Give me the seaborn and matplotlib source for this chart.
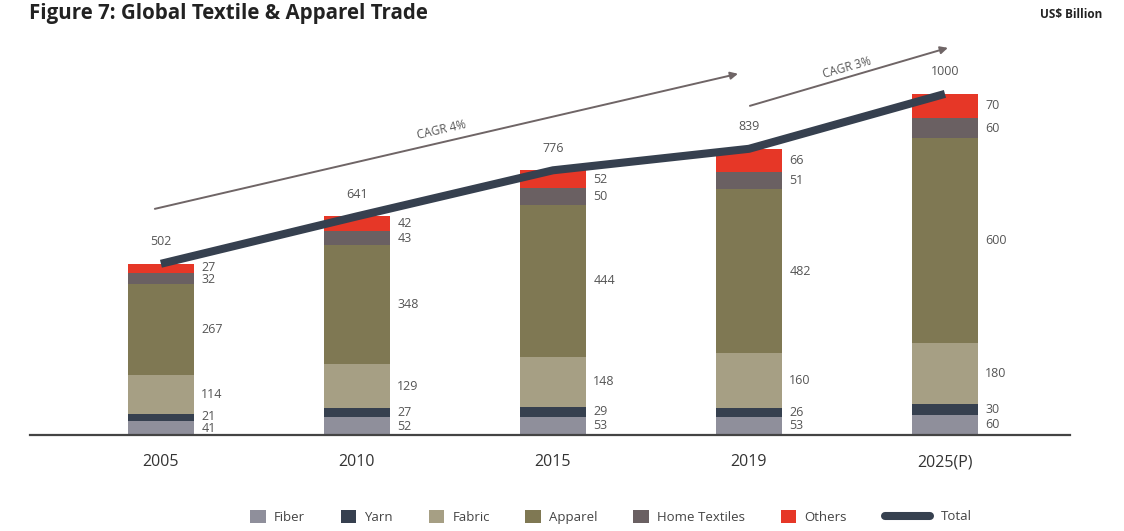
import numpy as np
import pandas as pd
import matplotlib
matplotlib.use("Agg")
import matplotlib.pyplot as plt
import seaborn as sns
from matplotlib.patches import Patch
from matplotlib.lines import Line2D

years = ["2005", "2010", "2015", "2019", "2025(P)"]
fiber = [41, 52, 53, 53, 60]
yarn = [21, 27, 29, 26, 30]
fabric = [114, 129, 148, 160, 180]
apparel = [267, 348, 444, 482, 600]
home_textiles = [32, 43, 50, 51, 60]
others = [27, 42, 52, 66, 70]
totals = [502, 641, 776, 839, 1000]
series_names = ["Fiber", "Yarn", "Fabric", "Apparel", "Home Textiles", "Others"]
cagr_labels = ["CAGR 4%", "CAGR 3%"]

colors = ["#8f8f9b", "#36404f", "#a69f84", "#7f7853", "#6a6062", "#e63727"]
line_color = "#36404f"
arrow_color = "#6f6566"
label_color = "#555555"

sns.set_theme(style="white")
plt.rcParams['font.family'] = ['Open Sans', 'DejaVu Sans']

fig = plt.figure(figsize=(11.24, 5.31), dpi=100)
ax = fig.add_axes([30/1124, 96/531, 1040/1124, 395/531])

series = [fiber, yarn, fabric, apparel, home_textiles, others]
cum = np.cumsum(np.array(series), axis=0)
df = pd.DataFrame({"year": years})
# draw cumulative layers from top to bottom so that each layer shows its own segment
for i in range(len(series) - 1, -1, -1):
    df["v"] = cum[i]
    sns.barplot(data=df, x="year", y="v", color=colors[i], width=0.34,
                saturation=1, errorbar=None, ax=ax, linewidth=0, zorder=2)

xpos = np.arange(len(years))
px_per_unit = 395 / 1158
min_gap_px = 12.5
# segment labels, nudged apart when neighbouring segments are thin
for j in range(len(years)):
    mids = []
    for i in range(len(series)):
        bottom = cum[i][j] - series[i][j]
        mids.append((bottom + series[i][j] / 2) * px_per_unit)
    offs = [0.0] * len(series)
    for i in range(len(series) - 1):
        gap = (mids[i + 1] + offs[i + 1]) - (mids[i] + offs[i])
        if gap < min_gap_px:
            push = (min_gap_px - gap) / 2
            offs[i] -= push
            offs[i + 1] += push
    for i in range(len(series)):
        bottom = cum[i][j] - series[i][j]
        mid = bottom + series[i][j] / 2
        ax.annotate(str(series[i][j]), xy=(xpos[j] + 0.17, mid),
                    xytext=(5, offs[i] * 0.72),
                    textcoords="offset points", ha="left", va="center",
                    fontsize=9, color=label_color)

# total line
sns.lineplot(x=xpos, y=totals, color=line_color, linewidth=5.8, ax=ax,
             zorder=5, solid_capstyle="butt")
for j in range(len(years)):
    ax.annotate(str(totals[j]), xy=(xpos[j], totals[j]), xytext=(0, 16),
                textcoords="offset points", ha="center", va="center",
                fontsize=9, color=label_color)

# CAGR arrows
ax.annotate("", xy=(2.944, 1059), xytext=(-0.031, 663),
            arrowprops=dict(arrowstyle="-|>", color=arrow_color, lw=1.4,
                            mutation_scale=11, shrinkA=0, shrinkB=0))
ax.annotate("", xy=(4.015, 1135), xytext=(3.005, 965),
            arrowprops=dict(arrowstyle="-|>", color=arrow_color, lw=1.4,
                            mutation_scale=11, shrinkA=0, shrinkB=0))
ax.text(1.434, 894, cagr_labels[0], rotation=13, ha="center", va="center",
        fontsize=8.5, color=label_color, rotation_mode="anchor")
ax.text(3.5, 1076, cagr_labels[1], rotation=16, ha="center", va="center",
        fontsize=8.5, color=label_color, rotation_mode="anchor")

ax.set_xlim(-0.668, 4.638)
ax.set_ylim(0, 1158)
ax.set_xlabel("")
ax.set_ylabel("")
ax.set_yticks([])
ax.tick_params(axis="x", length=0, pad=14, labelsize=11.5, labelcolor="#333333")
for s in ["top", "right", "left"]:
    ax.spines[s].set_visible(False)
ax.spines["bottom"].set_color("#444444")
ax.spines["bottom"].set_linewidth(1.6)
ax.spines["bottom"].set_zorder(6)

fig.text(29/1124, 1 - 14/531, "Figure 7: Global Textile & Apparel Trade",
         fontsize=14.8, fontweight="bold", color="#222222", ha="left", va="center")
fig.text(1102/1124, 1 - 15/531, "US$ Billion", fontsize=8.5, fontweight="bold",
         color="#222222", ha="right", va="center")

handles = [Patch(facecolor=c, edgecolor="none", label=n) for c, n in zip(colors, series_names)]
leg1 = fig.legend(handles=handles, loc="center left", bbox_to_anchor=(250/1124, 14/531),
                  ncol=6, frameon=False, fontsize=9.5, handlelength=1.2, handleheight=1.15,
                  handletextpad=0.6, columnspacing=2.7, borderpad=0, borderaxespad=0,
                  labelcolor="#444444")
leg2 = fig.legend(handles=[Line2D([], [], color=line_color, lw=5.8, label="Total")],
                  loc="center left", bbox_to_anchor=(885/1124, 14/531), frameon=False,
                  fontsize=9.5, handlelength=3.4, handletextpad=0.8, borderpad=0,
                  borderaxespad=0, labelcolor="#444444")

fig.savefig("out.png", dpi=100)
